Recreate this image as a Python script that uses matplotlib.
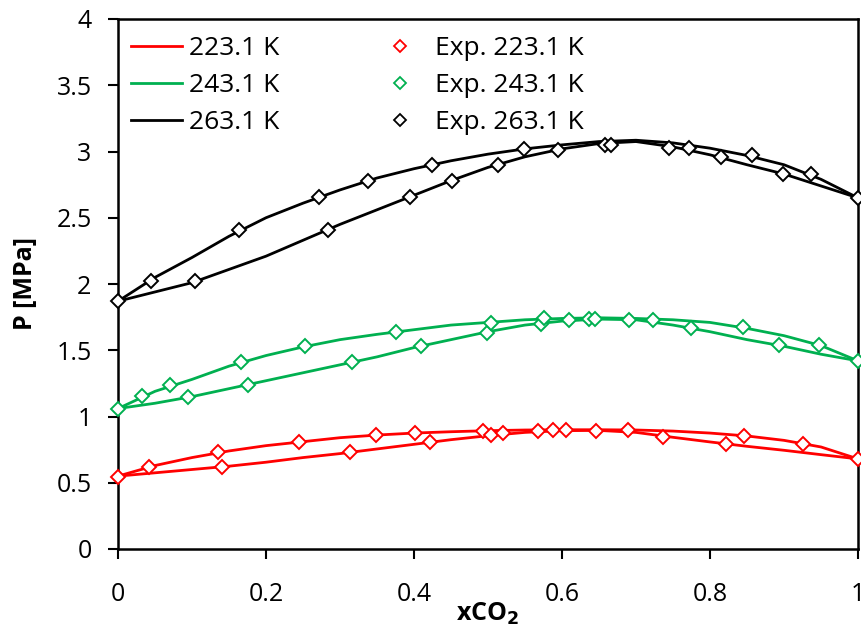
import matplotlib
matplotlib.use("Agg")
import matplotlib.pyplot as plt
from matplotlib.lines import Line2D

# ---------------- data ----------------
model_x = [0.00, 0.05, 0.10, 0.15, 0.20, 0.25, 0.30, 0.35, 0.40, 0.45, 0.50,
           0.55, 0.60, 0.65, 0.70, 0.75, 0.80, 0.85, 0.90, 0.95, 1.00]

# 223.1 K model (bubble = upper, dew = lower)
red_bub = [0.55, 0.63, 0.69, 0.74, 0.78, 0.81, 0.84, 0.86, 0.875, 0.885, 0.893,
           0.898, 0.90, 0.90, 0.898, 0.89, 0.875, 0.853, 0.82, 0.77, 0.68]
red_dew = [0.55, 0.575, 0.60, 0.625, 0.655, 0.69, 0.72, 0.755, 0.79, 0.825, 0.855,
           0.88, 0.893, 0.895, 0.88, 0.843, 0.808, 0.775, 0.745, 0.712, 0.68]

# 243.1 K model
green_bub = [1.06, 1.19, 1.28, 1.38, 1.46, 1.525, 1.58, 1.62, 1.655, 1.69, 1.71,
             1.73, 1.74, 1.745, 1.74, 1.73, 1.71, 1.665, 1.61, 1.535, 1.42]
green_dew = [1.06, 1.10, 1.15, 1.21, 1.27, 1.33, 1.39, 1.45, 1.52, 1.58, 1.64,
             1.69, 1.72, 1.735, 1.73, 1.69, 1.64, 1.58, 1.53, 1.47, 1.42]

# 263.1 K model
black_bub = [1.87, 2.05, 2.20, 2.36, 2.50, 2.61, 2.71, 2.80, 2.87, 2.93, 2.98,
             3.02, 3.05, 3.075, 3.085, 3.065, 3.025, 2.97, 2.90, 2.79, 2.65]
black_dew = [1.87, 1.94, 2.01, 2.11, 2.21, 2.33, 2.45, 2.56, 2.67, 2.78, 2.88,
             2.96, 3.02, 3.06, 3.075, 3.035, 2.975, 2.90, 2.83, 2.74, 2.65]

# experimental points
red_exp_x = [0, 0.042, 0.135, 0.141, 0.244, 0.313, 0.348, 0.401, 0.422, 0.493, 0.504,
             0.520, 0.568, 0.588, 0.605, 0.646, 0.689, 0.737, 0.822, 0.846, 0.926, 1.0]
red_exp_y = [0.547, 0.622, 0.731, 0.622, 0.811, 0.731, 0.862, 0.875, 0.807, 0.892, 0.857,
             0.875, 0.892, 0.90, 0.90, 0.892, 0.90, 0.849, 0.794, 0.854, 0.794, 0.678]

green_exp_x = [0, 0.032, 0.070, 0.095, 0.166, 0.176, 0.253, 0.316, 0.375, 0.410, 0.498, 0.504,
               0.572, 0.575, 0.609, 0.636, 0.644, 0.690, 0.723, 0.774, 0.844, 0.893, 0.947, 1.0]
green_exp_y = [1.059, 1.152, 1.24, 1.147, 1.41, 1.24, 1.53, 1.41, 1.64, 1.53, 1.63, 1.707,
               1.70, 1.745, 1.726, 1.737, 1.737, 1.726, 1.726, 1.669, 1.673, 1.543, 1.543, 1.416]

black_exp_x = [0, 0.044, 0.104, 0.164, 0.271, 0.284, 0.338, 0.395, 0.424, 0.451, 0.513,
               0.548, 0.595, 0.658, 0.666, 0.744, 0.772, 0.815, 0.857, 0.899, 0.936, 1.0]
black_exp_y = [1.868, 2.02, 2.02, 2.41, 2.66, 2.41, 2.78, 2.66, 2.90, 2.78, 2.90,
               3.02, 3.01, 3.05, 3.05, 3.03, 3.03, 2.96, 2.97, 2.83, 2.83, 2.65]

temps = ["223.1 K", "243.1 K", "263.1 K"]
colors = ["#FF0000", "#00B050", "#000000"]

x_ticks = [0, 0.2, 0.4, 0.6, 0.8, 1]
x_ticklabels = ["0", "0.2", "0.4", "0.6", "0.8", "1"]
y_ticks = [0, 0.5, 1, 1.5, 2, 2.5, 3, 3.5, 4]
y_ticklabels = ["0", "0.5", "1", "1.5", "2", "2.5", "3", "3.5", "4"]

# ---------------- plot ----------------
plt.rcParams['font.family'] = ['Open Sans', 'DejaVu Sans']
FS_TICK = 18
FS_LEG = 19
FS_LAB = 18

fig = plt.figure(figsize=(8.61, 6.28), dpi=100)
ax = fig.add_axes([118/861, 1-549/628, (858-118)/861, (549-19)/628])

bub = [red_bub, green_bub, black_bub]
dew = [red_dew, green_dew, black_dew]
ex = [red_exp_x, green_exp_x, black_exp_x]
ey = [red_exp_y, green_exp_y, black_exp_y]

for i in range(3):
    ax.plot(model_x, bub[i], color=colors[i], lw=2.0, zorder=2, clip_on=False)
    ax.plot(model_x, dew[i], color=colors[i], lw=2.0, zorder=2, clip_on=False)
    ax.plot(ex[i], ey[i], ls='none', marker='D', ms=7.5, mfc='white',
            mec=colors[i], mew=1.4, zorder=4, clip_on=False)

ax.set_xlim(0, 1)
ax.set_ylim(0, 4)
ax.set_xticks(x_ticks)
ax.set_xticklabels(x_ticklabels)
ax.set_yticks(y_ticks)
ax.set_yticklabels(y_ticklabels)
ax.tick_params(axis='both', direction='out', length=7, width=1.5,
               labelsize=FS_TICK, colors='black')
ax.tick_params(axis='x', pad=17)
ax.tick_params(axis='y', pad=12)
for s in ax.spines.values():
    s.set_linewidth(1.8)
    s.set_color('black')

ax.set_ylabel("P [MPa]", fontsize=FS_LAB, fontweight='bold', labelpad=13)
ax.set_xlabel("xCO$_\\mathbf{2}$", fontsize=FS_LAB, fontweight='bold', labelpad=-5)

# legends
line_handles = [Line2D([], [], color=c, lw=2.0) for c in colors]
mark_handles = [Line2D([], [], ls='none', marker='D', ms=6.5, mfc='white', mec=c, mew=1.3)
                for c in colors]

leg1 = fig.legend(line_handles, temps, loc='upper left',
                  bbox_to_anchor=(131/861, 1-36/628), frameon=False,
                  fontsize=FS_LEG, handlelength=1.95, handletextpad=0.25,
                  labelspacing=0.45, borderpad=0, borderaxespad=0)
leg2 = fig.legend(mark_handles, ["Exp. " + t for t in temps], loc='upper left',
                  bbox_to_anchor=(374/861, 1-36/628), frameon=False,
                  fontsize=FS_LEG, handlelength=1.95, handletextpad=0.35,
                  labelspacing=0.45, borderpad=0, borderaxespad=0)

fig.savefig("out.png", dpi=100)
